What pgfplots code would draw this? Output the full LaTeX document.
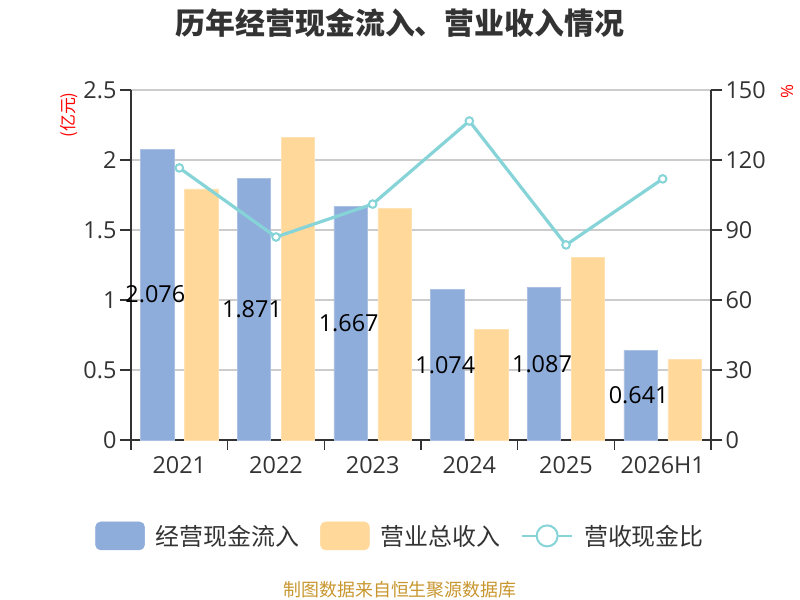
\documentclass[border=0pt]{standalone}
\usepackage{fontspec}
\usepackage{pgfplots}
\pgfplotsset{compat=1.18}
\setmainfont{Noto Sans CJK SC}
\newfontfamily\numfont{Open Sans}
\definecolor{cblue}{RGB}{142,173,219}
\definecolor{cyel}{RGB}{255,216,154}
\definecolor{cteal}{RGB}{134,212,216}
\definecolor{cgrid}{RGB}{204,204,204}
\definecolor{caxis}{RGB}{51,51,51}
\definecolor{csrc}{RGB}{200,150,46}
\begin{document}
\begin{tikzpicture}[x=1bp,y=1bp]
\useasboundingbox (0,0) rectangle (800,600);
\begin{axis}[
  at={(131bp,160bp)}, anchor=south west, scale only axis,
  width=580bp, height=350bp,
  xmin=-0.5, xmax=5.5, ymin=0, ymax=2.5,
  axis x line*=bottom, axis y line*=left,
  axis line style={-, draw=caxis, line width=1.6bp},
  xtick={0,...,5}, xticklabels={2021,2022,2023,2024,2025,2026H1},
  minor xtick={-0.5,0.5,1.5,2.5,3.5,4.5,5.5},
  x tick style={draw=caxis, line width=1.6bp},
  major x tick style={draw=none},
  ytick={0,0.5,1,1.5,2,2.5},
  y tick style={draw=caxis, line width=1.6bp},
  tick align=outside, major tick length=11bp, minor tick length=10bp,
  ymajorgrids, grid style={cgrid, line width=1.2bp},
  /pgf/number format/assume math mode=true,
  tick label style={font=\numfont\fontsize{23.5}{23.5}\selectfont, text=caxis},
  xticklabel style={yshift=-2bp},
  clip=false,
]
\addplot[ybar, bar width=33.5bp, bar shift=-22bp, fill=cblue, draw=cblue!75!white, line width=0.8bp]
  coordinates {(0,2.076) (1,1.871) (2,1.667) (3,1.074) (4,1.087) (5,0.641)};
\addplot[ybar, bar width=33.5bp, bar shift=22bp, fill=cyel, draw=cyel!75!white, line width=0.8bp]
  coordinates {(0,1.793) (1,2.164) (2,1.655) (3,0.790) (4,1.307) (5,0.577)};
\addplot[draw=none, mark=none, point meta=explicit symbolic, nodes near coords,
  every node near coord/.style={anchor=center, xshift=-24bp, font=\numfont\fontsize{23.5}{23.5}\selectfont, text=black}]
  coordinates {(0,1.038)[2.076] (1,0.9355)[1.871] (2,0.8335)[1.667] (3,0.537)[1.074] (4,0.5435)[1.087] (5,0.3205)[0.641]};
\end{axis}
\begin{axis}[
  at={(131bp,160bp)}, anchor=south west, scale only axis,
  width=580bp, height=350bp,
  xmin=-0.5, xmax=5.5, ymin=0, ymax=150,
  axis x line=none, axis y line*=right,
  axis line style={-, draw=caxis, line width=1.6bp},
  ytick={0,30,60,90,120,150},
  y tick style={draw=caxis, line width=1.6bp},
  tick align=outside, major tick length=11bp,
  /pgf/number format/assume math mode=true,
  tick label style={font=\numfont\fontsize{23.5}{23.5}\selectfont, text=caxis},
  clip=false,
  legend columns=3,
  legend style={at={(0.463,-0.274)}, anchor=center, draw=none, fill=none,
    font=\fontsize{24}{24}\selectfont, text=caxis, nodes={inner sep=0pt},
    /tikz/every odd column/.append style={column sep=11bp},
    /tikz/every even column/.append style={column sep=21bp}},
]
\addlegendimage{legend image code/.code={\fill[cblue, rounded corners=5bp] (0bp,-14bp) rectangle (49bp,14bp);}}
\addlegendentry{经营现金流入}
\addlegendimage{legend image code/.code={\fill[cyel, rounded corners=5bp] (0bp,-14bp) rectangle (49bp,14bp);}}
\addlegendentry{营业总收入}
\addplot[cteal, line width=3.2bp, mark=*, mark size=3.8bp,
  mark options={fill=white, draw=cteal, line width=2bp},
  legend image code/.code={\draw[cteal, line width=2bp] (0bp,0bp) -- (50bp,0bp); \draw[cteal, line width=2bp, fill=white] (25bp,0bp) circle (10.5bp);}]
  coordinates {(0,116.6) (1,87.0) (2,101.1) (3,136.7) (4,83.6) (5,111.9)};
\addlegendentry{营收现金比}
\end{axis}
\node[font=\bfseries\fontsize{30}{30}\selectfont, text=caxis] at (400,577) {历年经营现金流入、营业收入情况};
\node[rotate=90, text=red, font=\fontsize{17}{17}\selectfont] at (69,485) {(亿元)};
\node[rotate=90, text=red, font=\numfont\fontsize{17}{17}\selectfont] at (787,508) {\%};
\node[text=csrc, font=\fontsize{18}{18}\selectfont] at (400,10) {制图数据来自恒生聚源数据库};
\end{tikzpicture}
\end{document}
